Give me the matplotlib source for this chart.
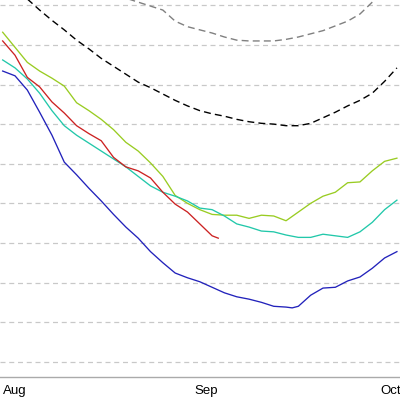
# Sea ice extent, Aug - Oct, several seasons (zoomed crop)
import numpy as np
import matplotlib.pyplot as plt

# data (day of year, extent)
#------------------------------------------------
days = [211, 213, 215, 217, 219, 221, 223, 225, 227, 229, 231, 233, 235, 237,
        239, 241, 243, 245, 247, 249, 251, 253, 255, 257, 259, 261, 263, 265,
        267, 269, 271, 273, 275]

blue_days = days[:24] + [258] + days[24:]
blue = [6.67, 6.61, 6.43, 6.15, 5.86, 5.52, 5.36, 5.19, 5.03, 4.86, 4.70, 4.56,
        4.39, 4.25, 4.12, 4.06, 4.01, 3.94, 3.87, 3.82, 3.79, 3.75, 3.70, 3.69,
        3.68, 3.70, 3.84, 3.93, 3.94, 4.02, 4.07, 4.18, 4.31, 4.39]

teal = [6.81, 6.71, 6.57, 6.39, 6.17, 5.98, 5.86, 5.76, 5.66, 5.56, 5.46, 5.34,
        5.22, 5.14, 5.09, 5.03, 4.94, 4.92, 4.84, 4.74, 4.70, 4.65, 4.64, 4.60,
        4.57, 4.57, 4.61, 4.59, 4.57, 4.64, 4.76, 4.92, 5.04]

red_days = days[:18] + [246]
red = [7.05, 6.87, 6.59, 6.47, 6.28, 6.14, 5.98, 5.88, 5.79, 5.58, 5.46, 5.41,
       5.32, 5.14, 4.99, 4.89, 4.74, 4.59, 4.56]

green = [7.16, 6.97, 6.78, 6.67, 6.58, 6.48, 6.27, 6.17, 6.06, 5.93, 5.77, 5.66,
         5.51, 5.34, 5.10, 5.00, 4.92, 4.86, 4.85, 4.85, 4.81, 4.85, 4.84, 4.78,
         4.89, 5.00, 5.09, 5.14, 5.26, 5.27, 5.41, 5.53, 5.57]

avg_recent = [7.87, 7.73, 7.58, 7.44, 7.31, 7.19, 7.06, 6.95, 6.83, 6.73, 6.63,
              6.53, 6.46, 6.38, 6.30, 6.23, 6.17, 6.13, 6.10, 6.06, 6.03, 6.01,
              6.00, 5.98, 5.98, 6.01, 6.08, 6.15, 6.23, 6.30, 6.39, 6.54, 6.71]

avg_old_days = [225, 227] + days[9:32]
avg_old = [7.76, 7.69, 7.64, 7.59, 7.54, 7.49, 7.44, 7.30, 7.23, 7.19, 7.15,
           7.10, 7.06, 7.05, 7.05, 7.05, 7.07, 7.10, 7.14, 7.18, 7.24, 7.30,
           7.39, 7.54, 7.67]

month_ticks = [213, 244, 274]
month_labels = ['Aug', 'Sep', 'Oct']
grid_vals = np.arange(3.0, 8.0, 0.5)
#------------------------------------------------

plt.rcParams['font.family'] = ['Liberation Sans', 'DejaVu Sans']

fig = plt.figure(figsize=(4.0, 3.98), dpi=100)
ax = fig.add_axes([0, 0.0535, 1, 0.9465])

for g in grid_vals:
    ax.axhline(g, color='#c8c8c8', lw=0.9, dashes=(4, 3), zorder=0)

ax.plot(avg_old_days, avg_old, color='#808080', lw=1.0, dashes=(5, 3))
ax.plot(days, avg_recent, color='black', lw=1.0, dashes=(5, 3))
ax.plot(days, green, color='#99cc22', lw=0.95)
ax.plot(days, teal, color='#22c8aa', lw=0.95)
ax.plot(red_days, red, color='#cc2222', lw=0.95)
ax.plot(blue_days, blue, color='#2222bb', lw=0.95)

ax.set_xlim(210.565, 275.5)
ax.set_ylim(2.811, 7.567)
ax.set_xticks(month_ticks)
ax.set_xticklabels(month_labels, fontsize=9.5)
ax.set_yticks([])
ax.tick_params(axis='x', length=0, pad=6)
for s in ['top', 'left', 'right']:
    ax.spines[s].set_visible(False)
ax.spines['bottom'].set_color('#aaaaaa')
ax.spines['bottom'].set_linewidth(1.0)

fig.savefig('out.png', dpi=100)
